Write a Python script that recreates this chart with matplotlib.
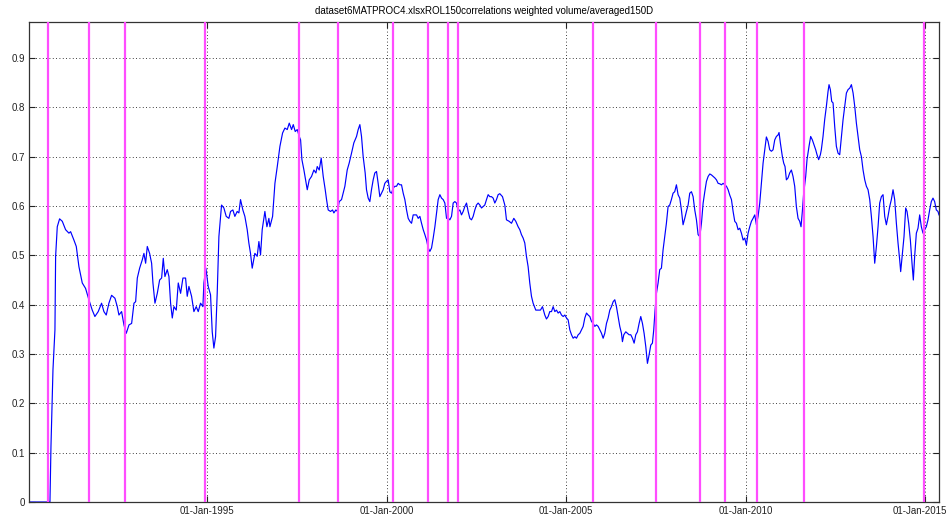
import matplotlib
matplotlib.use("Agg")
import matplotlib.pyplot as plt
import matplotlib.transforms as mtransforms
from datetime import datetime, timedelta

# ---- data (decimal years, correlation values) ----
years = [
    1990.033, 1990.610, 1990.618, 1990.646, 1990.702, 1990.757, 1990.776, 1990.822, 1990.887, 1990.962,
    1991.054, 1991.147, 1991.194, 1991.286, 1991.352, 1991.426, 1991.519, 1991.611, 1991.704, 1991.797,
    1991.871, 1991.964, 1992.057, 1992.122, 1992.187, 1992.261, 1992.336, 1992.429, 1992.494, 1992.540,
    1992.614, 1992.679, 1992.744, 1992.819, 1992.893, 1992.958, 1993.004, 1993.051, 1993.116, 1993.190,
    1993.236, 1993.283, 1993.329, 1993.394, 1993.450, 1993.487, 1993.543, 1993.608, 1993.673, 1993.729,
    1993.775, 1993.821, 1993.886, 1993.933, 1993.979, 1994.026, 1994.072, 1994.137, 1994.193, 1994.258,
    1994.323, 1994.397, 1994.443, 1994.490, 1994.564, 1994.629, 1994.694, 1994.750, 1994.815, 1994.880,
    1994.908, 1994.963, 1995.028, 1995.093, 1995.140, 1995.186, 1995.233, 1995.279, 1995.326, 1995.400,
    1995.465, 1995.530, 1995.604, 1995.651, 1995.716, 1995.771, 1995.836, 1995.883, 1995.929, 1995.994,
    1996.050, 1996.115, 1996.161, 1996.207, 1996.254, 1996.328, 1996.393, 1996.440, 1996.486, 1996.532,
    1996.607, 1996.663, 1996.718,
    1996.747, 1996.821, 1996.886, 1996.951, 1997.025, 1997.099, 1997.164, 1997.229, 1997.285, 1997.350,
    1997.397, 1997.452, 1997.508, 1997.564, 1997.601, 1997.638, 1997.694, 1997.740, 1997.787, 1997.842,
    1997.907, 1997.972, 1998.028, 1998.065, 1998.121, 1998.176, 1998.232, 1998.288, 1998.325, 1998.371,
    1998.436, 1998.492, 1998.529, 1998.585, 1998.631, 1998.678, 1998.743, 1998.789, 1998.836, 1998.901,
    1998.956, 1999.021, 1999.086, 1999.161, 1999.207, 1999.254, 1999.300, 1999.346, 1999.402, 1999.439,
    1999.486, 1999.532, 1999.578, 1999.625, 1999.671, 1999.718, 1999.764, 1999.811, 1999.857, 1999.904,
    1999.950, 1999.996, 2000.043, 2000.089, 2000.136, 2000.182, 2000.228, 2000.275, 2000.321, 2000.368,
    2000.414, 2000.461, 2000.507, 2000.554, 2000.600, 2000.646, 2000.693, 2000.739, 2000.786, 2000.832,
    2000.878, 2000.925, 2000.971, 2001.018, 2001.064, 2001.111, 2001.157, 2001.203, 2001.250, 2001.296,
    2001.343, 2001.389, 2001.435, 2001.482, 2001.528, 2001.575, 2001.621, 2001.668, 2001.723, 2001.760,
    2001.807, 2001.853, 2001.900, 2001.946, 2001.993, 2002.039, 2002.085, 2002.132, 2002.178, 2002.225,
    2002.271, 2002.318, 2002.364, 2002.410, 2002.457, 2002.503, 2002.550, 2002.596, 2002.643, 2002.689,
    2002.735, 2002.782, 2002.828, 2002.875, 2002.921, 2002.968, 2003.014, 2003.060, 2003.107, 2003.153,
    2003.228, 2003.293, 2003.339, 2003.414, 2003.479, 2003.544, 2003.599, 2003.664, 2003.711, 2003.757,
    2003.804, 2003.850, 2003.896, 2003.943, 2003.989, 2004.036, 2004.082, 2004.156, 2004.221, 2004.286,
    2004.342, 2004.407, 2004.453, 2004.500, 2004.546, 2004.593, 2004.639, 2004.686, 2004.732, 2004.778,
    2004.825, 2004.871, 2004.918, 2004.964, 2005.011, 2005.057, 2005.103, 2005.150, 2005.196, 2005.243,
    2005.289, 2005.336, 2005.382, 2005.428, 2005.475, 2005.521, 2005.568, 2005.614, 2005.661, 2005.707,
    2005.753, 2005.800, 2005.846, 2005.893, 2005.939, 2005.986, 2006.032, 2006.078, 2006.125, 2006.171,
    2006.218, 2006.264, 2006.311, 2006.357, 2006.403, 2006.450, 2006.496, 2006.543, 2006.570, 2006.608,
    2006.663, 2006.710, 2006.756, 2006.803, 2006.849, 2006.896, 2006.942, 2006.988, 2007.035, 2007.081,
    2007.128, 2007.174, 2007.221, 2007.267, 2007.313, 2007.360, 2007.406, 2007.443, 2007.480, 2007.518,
    2007.564, 2007.610, 2007.657, 2007.703, 2007.750, 2007.796, 2007.843, 2007.889, 2007.935, 2007.982,
    2008.028, 2008.075, 2008.121, 2008.168, 2008.214, 2008.260, 2008.307, 2008.353, 2008.400, 2008.446,
    2008.493, 2008.539, 2008.585, 2008.632, 2008.678, 2008.725, 2008.771, 2008.818, 2008.864, 2008.910,
    2008.957, 2009.003, 2009.050, 2009.096, 2009.143, 2009.189, 2009.235, 2009.282, 2009.328, 2009.375,
    2009.421, 2009.468, 2009.514, 2009.560, 2009.607, 2009.653, 2009.699, 2009.746, 2009.792, 2009.839,
    2009.885, 2009.932, 2009.978, 2010.024, 2010.071, 2010.117, 2010.164, 2010.210, 2010.257, 2010.303,
    2010.349, 2010.396, 2010.442, 2010.489, 2010.535, 2010.581, 2010.628, 2010.674, 2010.721, 2010.767,
    2010.814, 2010.860, 2010.906, 2010.934, 2010.971, 2011.027, 2011.064, 2011.101, 2011.139, 2011.185,
    2011.231, 2011.278, 2011.324, 2011.371, 2011.417, 2011.464, 2011.510, 2011.547, 2011.584, 2011.621,
    2011.677, 2011.714, 2011.770, 2011.816, 2011.863, 2011.909, 2011.956, 2011.993, 2012.039, 2012.086,
    2012.113, 2012.160, 2012.206, 2012.253, 2012.299, 2012.327, 2012.364, 2012.401, 2012.439, 2012.485,
    2012.531, 2012.578, 2012.624, 2012.671, 2012.717, 2012.764, 2012.810, 2012.856, 2012.903, 2012.949,
    2012.996, 2013.042, 2013.088, 2013.135, 2013.181, 2013.228, 2013.274, 2013.321, 2013.367, 2013.413,
    2013.460, 2013.506, 2013.553, 2013.599, 2013.646, 2013.692, 2013.738, 2013.785, 2013.831, 2013.878,
    2013.924, 2013.970, 2014.017, 2014.063, 2014.110, 2014.156, 2014.203, 2014.249, 2014.295, 2014.323,
    2014.370, 2014.416, 2014.463, 2014.500, 2014.546, 2014.593, 2014.639, 2014.676, 2014.713, 2014.760,
    2014.806, 2014.853, 2014.899, 2014.945, 2014.992, 2015.038, 2015.085, 2015.131, 2015.177, 2015.224,
    2015.270, 2015.317, 2015.363, 2015.391,
]

corr = [
    0.000, 0.000, 0.000, 0.112, 0.268, 0.349, 0.498, 0.558, 0.574, 0.569,
    0.552, 0.545, 0.548, 0.531, 0.518, 0.477, 0.444, 0.433, 0.410, 0.389,
    0.376, 0.386, 0.403, 0.386, 0.379, 0.403, 0.419, 0.413, 0.396, 0.379,
    0.386, 0.359, 0.342, 0.359, 0.362, 0.403, 0.406, 0.454, 0.474, 0.491,
    0.504, 0.484, 0.518, 0.504, 0.484, 0.444, 0.403, 0.423, 0.450, 0.454,
    0.494, 0.457, 0.471, 0.457, 0.403, 0.373, 0.396, 0.389, 0.444, 0.423,
    0.454, 0.454, 0.417, 0.437, 0.417, 0.386, 0.396, 0.386, 0.403, 0.396,
    0.444, 0.474, 0.437, 0.420, 0.345, 0.312, 0.335, 0.423, 0.538, 0.602,
    0.596, 0.579, 0.575, 0.589, 0.592, 0.579, 0.589, 0.586, 0.613, 0.592,
    0.579, 0.552, 0.525, 0.504, 0.474, 0.504, 0.498, 0.528, 0.501, 0.552,
    0.589, 0.558, 0.575,
    0.558, 0.579, 0.646, 0.680, 0.721, 0.748, 0.758, 0.755, 0.768, 0.755,
    0.765, 0.751, 0.755, 0.741, 0.734, 0.694, 0.673, 0.653, 0.633, 0.653,
    0.660, 0.673, 0.667, 0.680, 0.673, 0.697, 0.660, 0.633, 0.613, 0.592,
    0.589, 0.592, 0.586, 0.592, 0.589, 0.609, 0.613, 0.626, 0.640, 0.673,
    0.687, 0.707, 0.728, 0.741, 0.755, 0.765, 0.741, 0.700, 0.667, 0.633,
    0.616, 0.609, 0.633, 0.653, 0.667, 0.670, 0.646, 0.619, 0.626, 0.633,
    0.646, 0.650, 0.653, 0.629, 0.626, 0.636, 0.640, 0.640, 0.646, 0.643,
    0.643, 0.626, 0.613, 0.592, 0.575, 0.569, 0.565, 0.582, 0.582, 0.582,
    0.575, 0.579, 0.565, 0.552, 0.542, 0.531, 0.515, 0.508, 0.515, 0.535,
    0.558, 0.586, 0.613, 0.623, 0.616, 0.613, 0.606, 0.575, 0.575, 0.572,
    0.579, 0.606, 0.609, 0.606, 0.589, 0.592, 0.582, 0.589, 0.599, 0.606,
    0.589, 0.575, 0.572, 0.579, 0.592, 0.602, 0.606, 0.602, 0.596, 0.599,
    0.602, 0.613, 0.623, 0.619, 0.619, 0.616, 0.606, 0.613, 0.623, 0.625,
    0.619, 0.602, 0.572, 0.569, 0.565, 0.575, 0.569, 0.558, 0.552, 0.542,
    0.535, 0.525, 0.498, 0.477, 0.444, 0.417, 0.403, 0.389, 0.389, 0.389,
    0.396, 0.379, 0.371, 0.376, 0.386, 0.386, 0.396, 0.386, 0.389, 0.383,
    0.386, 0.379, 0.376, 0.379, 0.373, 0.369, 0.349, 0.339, 0.332, 0.335,
    0.332, 0.339, 0.342, 0.349, 0.356, 0.373, 0.383, 0.379, 0.376, 0.366,
    0.362, 0.356, 0.359, 0.356, 0.349, 0.342, 0.332, 0.342, 0.362, 0.373,
    0.389, 0.396, 0.406, 0.410, 0.396, 0.376, 0.356, 0.342, 0.325, 0.339,
    0.345, 0.342, 0.339, 0.339, 0.332, 0.322, 0.339, 0.345, 0.362, 0.376,
    0.362, 0.342, 0.315, 0.281, 0.298, 0.318, 0.322, 0.349, 0.389, 0.423,
    0.444, 0.471, 0.474, 0.511, 0.538, 0.565, 0.599, 0.602, 0.613, 0.626,
    0.629, 0.643, 0.623, 0.616, 0.592, 0.562, 0.575, 0.589, 0.602, 0.626,
    0.629, 0.619, 0.592, 0.572, 0.542, 0.538, 0.565, 0.606, 0.629, 0.650,
    0.660, 0.665, 0.663, 0.660, 0.657, 0.653, 0.646, 0.645, 0.643, 0.646,
    0.643, 0.640, 0.633, 0.622, 0.613, 0.589, 0.569, 0.565, 0.552, 0.555,
    0.545, 0.531, 0.535, 0.521, 0.545, 0.558, 0.569, 0.575, 0.582, 0.562,
    0.579, 0.606, 0.646, 0.687, 0.714, 0.740, 0.731, 0.714, 0.711, 0.714,
    0.734, 0.741, 0.744, 0.749, 0.728, 0.700, 0.687, 0.680, 0.653, 0.657,
    0.667, 0.673, 0.660, 0.640, 0.599, 0.575, 0.569, 0.558, 0.589, 0.626,
    0.660, 0.694, 0.721, 0.741, 0.734, 0.724, 0.714, 0.704, 0.694, 0.704,
    0.714, 0.741, 0.775, 0.802, 0.832, 0.846, 0.836, 0.812, 0.809, 0.761,
    0.721, 0.707, 0.704, 0.741, 0.775, 0.802, 0.829, 0.836, 0.839, 0.846,
    0.829, 0.802, 0.768, 0.741, 0.714, 0.700, 0.673, 0.653, 0.640, 0.633,
    0.613, 0.579, 0.538, 0.484, 0.518, 0.558, 0.606, 0.619, 0.623, 0.579,
    0.562, 0.579, 0.599, 0.613, 0.633, 0.613, 0.565, 0.525, 0.491, 0.467,
    0.504, 0.538, 0.596, 0.589, 0.565, 0.531, 0.484, 0.450, 0.498, 0.545,
    0.555, 0.582, 0.558, 0.545, 0.552, 0.558, 0.572, 0.592, 0.609, 0.616,
    0.609, 0.592, 0.589, 0.582,
]

event_years = [1990.553, 1991.704, 1992.707, 1994.950, 1997.564, 1998.631, 2000.191,
               2001.139, 2001.705, 2001.983, 2005.763, 2007.499, 2008.725, 2009.416,
               2010.312, 2011.621, 2014.964]

tick_years = [1995, 2000, 2005, 2010, 2015]
tick_labels = ['01-Jan-1995', '01-Jan-2000', '01-Jan-2005', '01-Jan-2010', '01-Jan-2015']
yticks = [0, 0.1, 0.2, 0.3, 0.4, 0.5, 0.6, 0.7, 0.8, 0.9]
title = 'dataset6MATPROC4.xlsxROL150correlations weighted volume/averaged150D'


def dec2date(y):
    yr = int(y)
    start = datetime(yr, 1, 1)
    end = datetime(yr + 1, 1, 1)
    return start + timedelta(seconds=(y - yr) * (end - start).total_seconds())


dates = [dec2date(y) for y in years]
events = [dec2date(y) for y in event_years]
ticks = [datetime(y, 1, 1) for y in tick_years]

plt.rcParams['font.family'] = ['Liberation Sans Narrow', 'Liberation Sans', 'DejaVu Sans']

fig = plt.figure(figsize=(9.5, 5.18), dpi=100)
ax = fig.add_axes([0.0305, 0.0309, 0.9579, 0.9266])

ax.plot(dates, corr, color='#0000ff', lw=0.85, zorder=2)
for e in events:
    ax.axvline(e, color='#ff4dff', lw=1.6, zorder=3)

ax.set_xlim(dates[0], dates[-1])
ax.set_ylim(0, 0.973)
ax.set_xticks(ticks)
ax.set_xticklabels(tick_labels)
ax.set_yticks(yticks)
ax.set_yticklabels([('%g' % v) for v in yticks])

ax.grid(True, color='black', linestyle=(0, (1, 3)), lw=0.6)
ax.tick_params(direction='in', length=4, width=0.8, labelsize=7, top=True, right=True,
               colors='#222222', pad=3)
for s in ax.spines.values():
    s.set_color('#333333')
    s.set_linewidth(0.9)

# keep last date label inside the figure, as in the reference
last = ax.get_xticklabels()[-1]
last.set_transform(last.get_transform() +
                   mtransforms.ScaledTranslation(-4 / 72, 0, fig.dpi_scale_trans))

ax.set_title(title, fontsize=7, pad=6)

fig.savefig('out.png', dpi=100, facecolor='white')
